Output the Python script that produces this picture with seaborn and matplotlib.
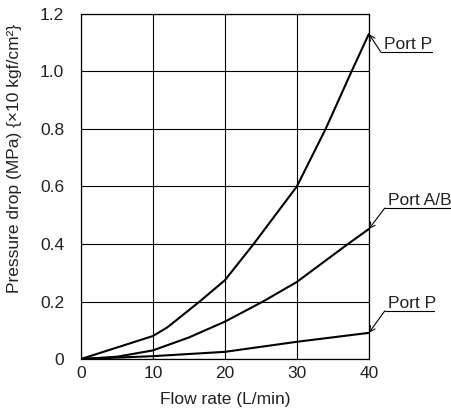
import numpy as np
import pandas as pd
import matplotlib
matplotlib.use('Agg')
import matplotlib.pyplot as plt
import seaborn as sns

# values
flow_p_top = [0, 10, 12, 16.5, 20, 24, 30, 34, 37.6, 40]
drop_p_top = [0, 0.08, 0.11, 0.2, 0.274, 0.4, 0.6, 0.8, 1.0, 1.13]

flow_ab = [0, 5, 10, 15, 20, 25.3, 30, 37.1, 40]
drop_ab = [0, 0.008, 0.03, 0.075, 0.13, 0.2, 0.268, 0.4, 0.452]

flow_p_low = [0, 10, 20, 30, 40]
drop_p_low = [0, 0.01, 0.025, 0.06, 0.091]

series_names = ['Port P (upper)', 'Port A/B', 'Port P (lower)']
labels = ['Port P', 'Port A/B', 'Port P']

x_ticks = [0, 10, 20, 30, 40]
y_ticks = [0, 0.2, 0.4, 0.6, 0.8, 1.0, 1.2]
y_ticklabels = ['0', '0.2', '0.4', '0.6', '0.8', '1.0', '1.2']

df = pd.concat([
    pd.DataFrame({'flow': flow_p_top, 'drop': drop_p_top, 'series': series_names[0]}),
    pd.DataFrame({'flow': flow_ab, 'drop': drop_ab, 'series': series_names[1]}),
    pd.DataFrame({'flow': flow_p_low, 'drop': drop_p_low, 'series': series_names[2]}),
])

sns.set_style('white')
plt.rcParams['font.family'] = ['Liberation Sans', 'DejaVu Sans']
fs = 12.5

fig = plt.figure(figsize=(4.52, 4.08), dpi=100)
ax = fig.add_axes([0.179, 0.12, 0.637, 0.846])

sns.lineplot(data=df, x='flow', y='drop', hue='series', palette=['black'] * 3,
             legend=False, ax=ax, linewidth=1.5, sort=False)

ax.set_xlim(0, 40)
ax.set_ylim(0, 1.2)
ax.set_xticks(x_ticks)
ax.set_yticks(y_ticks)
ax.set_yticklabels(y_ticklabels)
ax.grid(True, color='black', linewidth=0.8)
ax.set_axisbelow(True)
for s in ax.spines.values():
    s.set_color('black')
    s.set_linewidth(0.9)
ax.tick_params(axis='y', length=0, labelsize=fs, pad=12, colors='#222222')
ax.tick_params(axis='x', length=0, labelsize=fs, pad=5, colors='#222222')
ax.set_xlabel('Flow rate (L/min)', fontsize=fs, color='#222222')
ax.set_ylabel('Pressure drop (MPa) {×10 kgf/cm²}', fontsize=fs, color='#222222')
ax.xaxis.set_label_coords(0.5, -0.095)
ax.yaxis.set_label_coords(-0.205, 0.58)

# callouts: tip at curve end, elbow offset (px), underline length (px)
px = 0.72
ends = [drop_p_top[-1], drop_ab[-1], drop_p_low[-1]]
elbows = [(12, -18), (16, 21), (16, 22)]
lengths = [51, 70, 49]
inv = fig.transFigure.inverted()
for lab, yend, (ex, ey), ln in zip(labels, ends, elbows, lengths):
    ax.annotate('', xy=(40, yend), xytext=(ex * px, ey * px), textcoords='offset points',
                arrowprops=dict(arrowstyle='->', lw=0.8, color='black',
                                shrinkA=0, shrinkB=0), annotation_clip=False)
    ax.annotate(lab, xy=(40, yend), xytext=((ex + 3) * px, (ey + 3) * px),
                textcoords='offset points', ha='left', va='baseline', fontsize=fs,
                color='#222222', annotation_clip=False)
    # underline under the callout text
    p0 = ax.transData.transform((40, yend))
    x0, y0 = inv.transform((p0[0] + ex, p0[1] + ey))
    x1, _ = inv.transform((p0[0] + ex + ln, p0[1] + ey))
    fig.add_artist(plt.Line2D([x0, x1], [y0, y0], color='black', lw=0.8,
                              transform=fig.transFigure))

fig.savefig('out.png', dpi=100)
